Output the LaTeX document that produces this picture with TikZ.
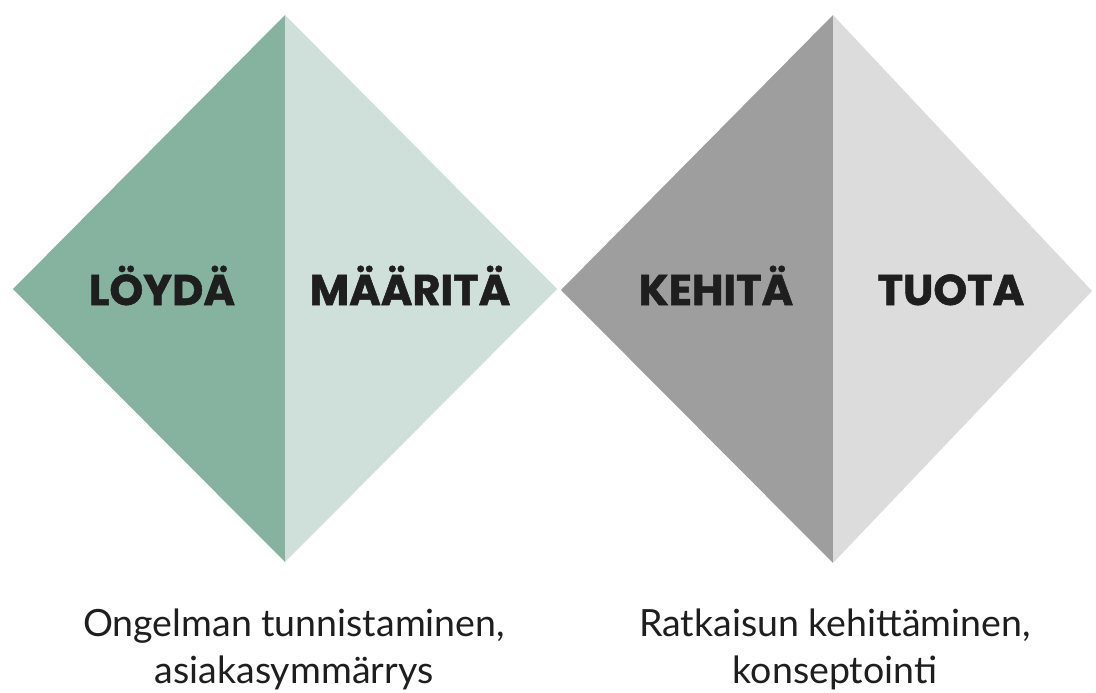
\documentclass[tikz,border=0pt]{standalone}
\usepackage{fontspec}
\setmainfont{Poppins}[BoldFeatures={FakeBold=1.2}]
\newfontfamily\lowfont{Lato}
\definecolor{gdark}{HTML}{86B3A0}
\definecolor{glight}{HTML}{CFDFD9}
\definecolor{kdark}{HTML}{9E9E9E}
\definecolor{klight}{HTML}{DCDCDC}
\definecolor{ink}{HTML}{1E1E1E}
\tikzset{
  label/.style={font=\fontsize{43}{43}\selectfont\bfseries, text=ink, anchor=base, inner sep=0pt},
  caption/.style={font=\lowfont\fontsize{37.5}{47}\selectfont, text=ink, align=center, anchor=base, inner sep=0pt}
}
\begin{document}
\begin{tikzpicture}[x=1pt,y=-1pt]
\useasboundingbox (0,0) rectangle (1096,693);
% left diamond
\fill[gdark] (13,289) -- (285,15) -- (285,562) -- cycle;
\fill[glight] (285,15) -- (557,289) -- (285,562) -- cycle;
% right diamond
\fill[kdark] (561,290) -- (833,15) -- (833,563) -- cycle;
\fill[klight] (833,15) -- (1092,291) -- (833,563) -- cycle;
\node[label] (l1) at (162,305) {LÖYDÄ};
\node[label] (l2) at (410,305) {MÄÄRITÄ};
\node[label] (l3) at (716,305) {KEHITÄ};
\node[label] (l4) at (951,305) {TUOTA};
\node[caption] (c1) at (294,636) {Ongelman tunnistaminen,};
\node[caption] (c1b) at (294,683) {asiakasymmärrys};
\node[caption] (c2) at (835,636) {Ratkaisun kehittäminen,};
\node[caption] (c2b) at (835,683) {konseptointi};
\end{tikzpicture}
\end{document}
